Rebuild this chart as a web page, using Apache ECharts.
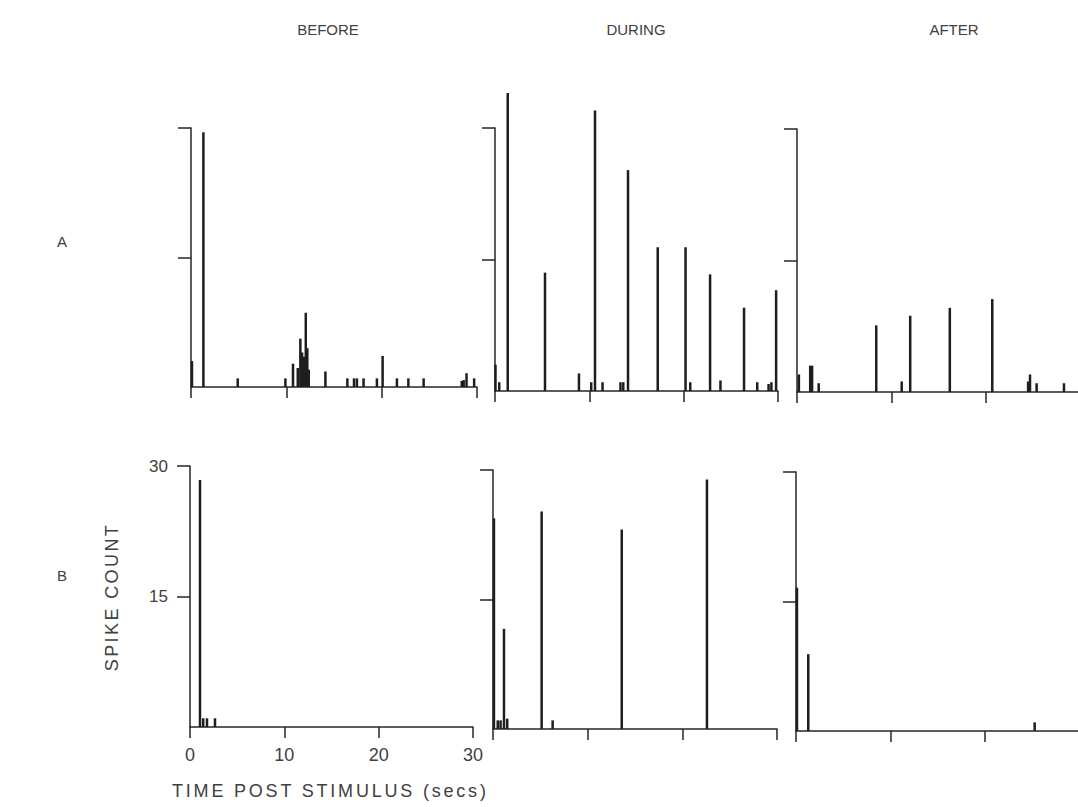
<!DOCTYPE html>
<html>
<head>
<meta charset="utf-8">
<script src="https://cdn.jsdelivr.net/npm/echarts@6/dist/echarts.min.js"></script>
<style>
  html, body { margin: 0; padding: 0; background: #ffffff; }
  #chart { width: 1078px; height: 807px; }
</style>
</head>
<body>
<div id="chart"></div>
<script>
// Column and row headings
const conditions = ['BEFORE', 'DURING', 'AFTER'];
const rowNames = ['A', 'B'];

// Tick values shared by every panel
const xTickValues = [0, 10, 20, 30];
const yTickValues = [15, 30];

// Peri-stimulus spike histograms: [time (s), spike count]
const spikesA_before = [
  [0.1, 3], [1.3, 29.5], [4.9, 1], [9.9, 1], [10.7, 2.7], [11.2, 2.2],
  [11.47, 5.6], [11.65, 4], [11.85, 3.5], [12.04, 8.6], [12.2, 4.5], [12.35, 2],
  [14.1, 1.8], [16.4, 1], [17.1, 1], [17.4, 1], [18.1, 1], [19.5, 1], [20.1, 3.6],
  [21.6, 1], [22.8, 1], [24.4, 1], [28.4, 0.7], [28.6, 0.8], [28.9, 1.6], [29.7, 1]
];
const spikesA_during = [
  [0.05, 3], [0.45, 1], [1.35, 34], [5.3, 13.5], [8.9, 2], [10.2, 1], [10.6, 32],
  [11.4, 1], [13.3, 1], [13.6, 1], [14.1, 25.2], [17.25, 16.4], [20.2, 16.4],
  [20.7, 1], [22.8, 13.3], [23.9, 1.2], [26.4, 9.5], [27.8, 1], [29.0, 0.8],
  [29.3, 1], [29.8, 11.5]
];
const spikesA_after = [
  [0.2, 2], [1.4, 3], [1.6, 3], [2.3, 1], [8.4, 7.6], [11.1, 1.2], [12.0, 8.7],
  [16.2, 9.6], [20.7, 10.6], [24.5, 1.2], [24.7, 2], [25.4, 1], [28.3, 1]
];
const spikesB_before = [
  [1.06, 28.4], [1.4, 1], [1.8, 1], [2.65, 1]
];
const spikesB_during = [
  [0.1, 24.4], [0.5, 1], [0.8, 1], [1.16, 11.6], [1.5, 1.2], [5.14, 25.2],
  [6.3, 1], [13.6, 23.1], [22.6, 28.9]
];
const spikesB_after = [
  [0.1, 16.6], [1.3, 8.9], [25.3, 1]
];

// Panel placement (pixels) and which panel carries the numbered axes
const panels = [
  { data: spikesA_before, box: { left: 191, top: 128, width: 286, height: 259 }, labels: false },
  { data: spikesA_during, box: { left: 495, top: 128, width: 283, height: 263 }, labels: false },
  { data: spikesA_after,  box: { left: 797, top: 129, width: 283, height: 263 }, labels: false },
  { data: spikesB_before, box: { left: 190, top: 466, width: 283, height: 261 }, labels: true },
  { data: spikesB_during, box: { left: 493, top: 470, width: 284, height: 259 }, labels: false },
  { data: spikesB_after,  box: { left: 796, top: 472, width: 283, height: 259 }, labels: false }
];

const INK = '#262626';
const TEXT = '#404040';
const FONT = '"Liberation Sans", Arial, sans-serif';
const axisLine = { show: true, lineStyle: { color: INK, width: 1.5 } };

const grid = [], xAxis = [], yAxis = [], series = [];
panels.forEach((p, i) => {
  grid.push(Object.assign({ outerBoundsMode: 'none', containLabel: false }, p.box));
  xAxis.push({
    type: 'value', gridIndex: i, min: 0, max: 30, interval: 10,
    axisLine: axisLine,
    axisTick: { show: true, length: 11, lineStyle: { color: INK, width: 1.5 } },
    axisLabel: {
      show: p.labels, margin: 19, color: TEXT, fontFamily: FONT, fontSize: 18,
      customValues: xTickValues
    },
    splitLine: { show: false }
  });
  yAxis.push({
    type: 'value', gridIndex: i, min: 0, max: 30,
    axisLine: axisLine,
    axisTick: { show: true, length: 13, customValues: yTickValues, lineStyle: { color: INK, width: 1.5 } },
    axisLabel: {
      show: p.labels, margin: 22, color: TEXT, fontFamily: FONT, fontSize: 17,
      customValues: yTickValues
    },
    splitLine: { show: false }
  });
  series.push({
    type: 'bar', xAxisIndex: i, yAxisIndex: i, data: p.data,
    barWidth: 2.5, clip: false,
    itemStyle: { color: '#1e1e1e' }
  });
});

const textStyle = (txt, x, y, size, align) => ({
  text: txt, x: x, y: y, fill: TEXT,
  font: size + 'px ' + FONT,
  textAlign: align || 'center', textVerticalAlign: 'middle'
});

const graphic = [
  { type: 'text', style: textStyle(conditions[0], 328, 29, 15) },
  { type: 'text', style: textStyle(conditions[1], 636, 29, 15) },
  { type: 'text', style: textStyle(conditions[2], 954, 29, 15) },
  { type: 'text', style: textStyle(rowNames[0], 62, 241, 15) },
  { type: 'text', style: textStyle(rowNames[1], 62, 575, 15) },
  { type: 'text', x: 112, y: 597, rotation: Math.PI / 2, style: textStyle('SPIKE COUNT', 0, 0, 18) },
  { type: 'text', style: textStyle('TIME POST STIMULUS (secs)', 172, 791, 18, 'left') }
];

const chart = echarts.init(document.getElementById('chart'), null, { renderer: 'svg' });
chart.setOption({
  animation: false,
  backgroundColor: '#ffffff',
  grid: grid, xAxis: xAxis, yAxis: yAxis, series: series, graphic: graphic
});

// Widely spaced lettering for the axis titles
const spacing = { 'TIME POST STIMULUS (secs)': '2.8px', 'SPIKE COUNT': '2.4px' };
function applySpacing() {
  document.querySelectorAll('#chart svg text').forEach(t => {
    const s = spacing[t.textContent];
    if (s) t.style.letterSpacing = s;
  });
}
chart.on('finished', applySpacing);
setTimeout(applySpacing, 0);
</script>
</body>
</html>
